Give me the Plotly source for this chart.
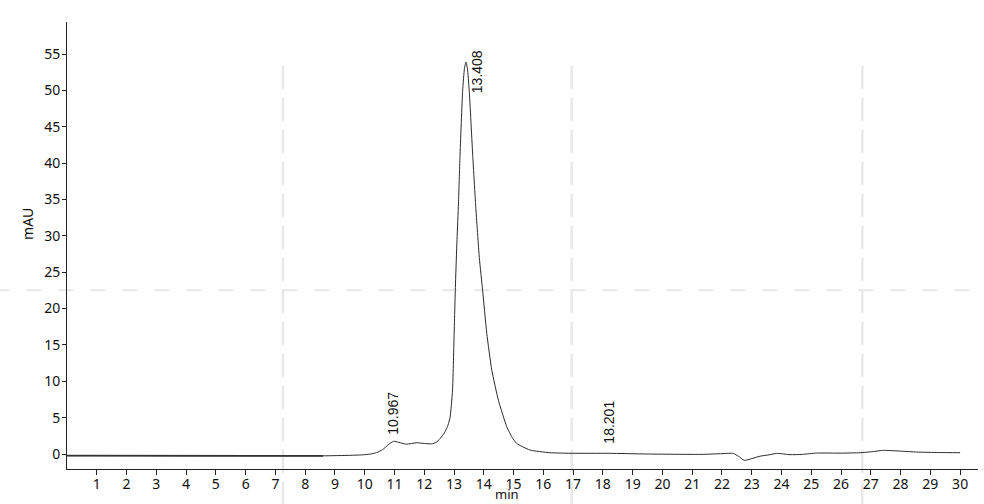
import plotly.graph_objects as go

# Retention time (min) and absorbance (mAU)
time_min = [0, 2, 4, 6, 8.6, 9.5, 9.9, 10.2, 10.4, 10.6, 10.8, 10.97, 11.15, 11.4, 11.75, 12.0,
            12.25, 12.4, 12.53, 12.7, 12.8, 12.87, 12.95, 13.0, 13.05, 13.1, 13.15, 13.2, 13.29,
            13.35, 13.40, 13.45, 13.51, 13.63, 13.73, 13.85, 13.96, 14.10, 14.27, 14.49, 14.77,
            14.95, 15.1, 15.55, 16.22, 17.0, 18.2, 19.5, 21.3, 22.0, 22.38, 22.55, 22.75,
            22.95, 23.28, 23.6, 23.84, 24.29, 24.7, 25.18, 26.0, 26.64, 27.0, 27.42, 28.0, 28.54,
            29.3, 30.0]
absorb_mau = [-0.22, -0.22, -0.24, -0.24, -0.25, -0.18, -0.12, 0.0, 0.2, 0.6, 1.3, 1.75, 1.6, 1.35,
              1.55, 1.45, 1.4, 1.6, 2.1, 3.07, 4.0, 5.1, 8.8, 16.0, 23.5, 29.5, 34.5, 40.9, 50.0,
              53.0, 53.9, 53.0, 50.0, 40.9, 34.0, 27.0, 22.5, 16.6, 11.5, 7.4, 3.76,
              2.3, 1.47, 0.55, 0.18, 0.1, 0.1, 0.0, -0.05, 0.05, 0.09, -0.3, -0.87,
              -0.7, -0.3, -0.1, 0.09, -0.09, -0.05, 0.13, 0.12, 0.18, 0.3, 0.5, 0.4, 0.27,
              0.2, 0.18]

# Peak labels
peak_labels = ["10.967", "13.408", "18.201"]
label_y = [2.3, 49.4, 1.2]
label_x = [10.95, 13.77, 18.2]

x_ticks = list(range(1, 31))
y_ticks = list(range(0, 56, 5))

font_family = "Noto Sans"

fig = go.Figure()
fig.add_trace(go.Scatter(
    x=time_min, y=absorb_mau, mode="lines",
    line=dict(color="#2b2b2b", width=1, shape="spline", smoothing=0.5),
    hoverinfo="x+y", showlegend=False))

# darker overlay on the early flat segment
n_early = 5
fig.add_trace(go.Scatter(
    x=time_min[:n_early], y=absorb_mau[:n_early], mode="lines",
    line=dict(color="#333333", width=1.8), showlegend=False, hoverinfo="skip"))

for lx, ly, lab in zip(label_x, label_y, peak_labels):
    fig.add_annotation(x=lx, y=ly, text=lab, textangle=-90, showarrow=False,
                       xanchor="center", yanchor="bottom",
                       font=dict(family="Liberation Sans", size=14, color="#111111"))

# light dashed guide lines
dash_col = "#e8e8e8"
for px in [0.237, 0.554, 0.873]:
    fig.add_shape(type="line", xref="paper", yref="paper", x0=px, x1=px, y0=-0.08, y1=0.92,
                  line=dict(color=dash_col, width=2.5, dash="23px,9px"), layer="below")
fig.add_shape(type="line", xref="paper", yref="paper", x0=-0.15, x1=1.01, y0=0.40, y1=0.40,
              line=dict(color=dash_col, width=2, dash="15px,17px"), layer="below")

fig.add_annotation(xref="paper", yref="paper", x=0.483, y=-0.0785, text="min", showarrow=False,
                   xanchor="center", yanchor="bottom", borderpad=0,
                   font=dict(family=font_family, size=13, color="#111"))
fig.add_annotation(xref="paper", yref="paper", x=-0.044, y=0.548, text="mAU", showarrow=False,
                   textangle=-90, xanchor="center", yanchor="middle",
                   font=dict(family=font_family, size=14, color="#111"))

fig.update_layout(
    width=984, height=504,
    margin=dict(l=67, r=6, t=22, b=35),
    paper_bgcolor="white", plot_bgcolor="white",
    font=dict(family=font_family, size=14, color="#111"),
    xaxis=dict(range=[0, 30.6], tickvals=x_ticks, ticktext=[str(v) for v in x_ticks],
               showgrid=False, zeroline=False, showline=True, linecolor="#222", linewidth=1,
               ticks="outside", ticklen=5, tickcolor="#222", tickfont=dict(size=14),
               ticklabelstandoff=-3, automargin=False),
    yaxis=dict(range=[-2.06, 59.4], tickvals=y_ticks, ticktext=[str(v) for v in y_ticks],
               showgrid=False, zeroline=False, showline=True, linecolor="#222", linewidth=1,
               ticks="outside", ticklen=4, tickcolor="#222", tickfont=dict(size=14),
               ticklabelstandoff=-1, automargin=False),
)

fig.write_html("out.html", config={"displayModeBar": False},
               post_script="document.body.style.margin='0';document.body.style.overflow='hidden';")
